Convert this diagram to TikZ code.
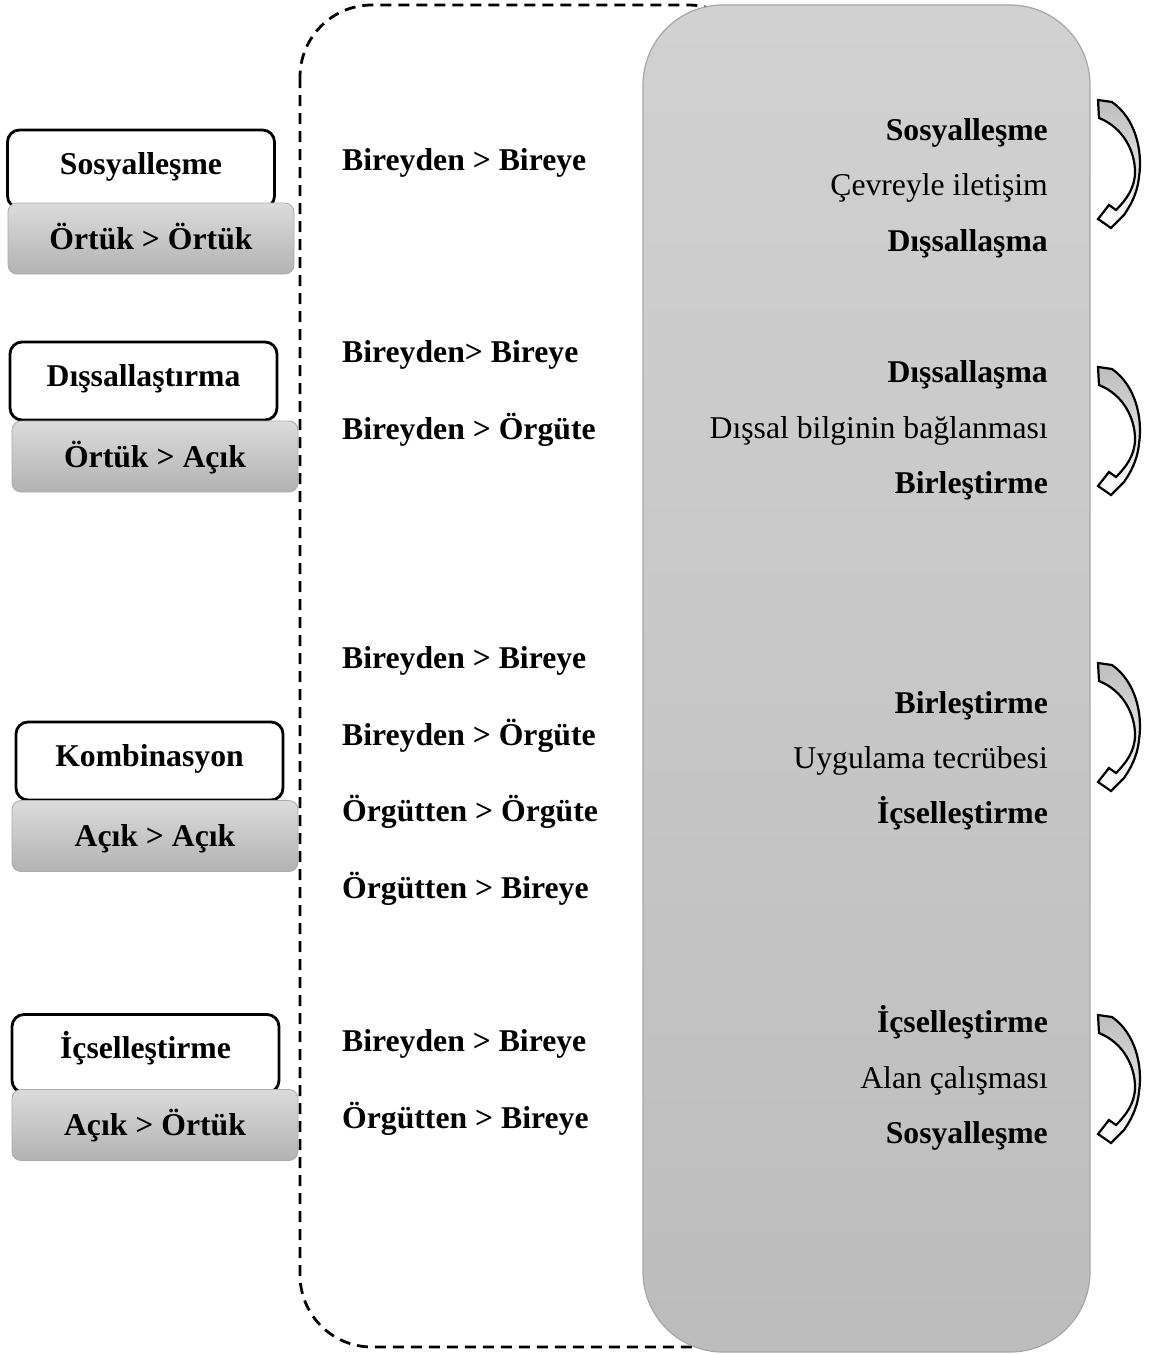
\documentclass[tikz,border=0pt]{standalone}
\usepackage{fontspec}
\setmainfont{Liberation Serif}
\begin{document}
\begin{tikzpicture}[x=1pt,y=-1pt,
  every node/.style={font=\fontsize{31.7}{38}\selectfont, inner sep=0pt},
  modebox/.style={draw=black, line width=2.8pt, rounded corners=12pt, fill=white,
    minimum width=267pt, minimum height=78pt, font=\fontsize{31.7}{38}\selectfont\bfseries,
    text height=19pt, text depth=8.2pt},
  kindbox/.style={draw=black!33, line width=0.8pt, rounded corners=9pt,
    top color=black!14, bottom color=black!30,
    minimum width=286pt, minimum height=71pt, font=\fontsize{31.7}{38}\selectfont\bfseries,
    text height=28.5pt, text depth=7.5pt},
  flow/.style={anchor=base west, font=\fontsize{31.7}{38}\selectfont\bfseries},
  stage/.style={anchor=base east, font=\fontsize{31.7}{38}\selectfont\bfseries},
  stagenote/.style={anchor=base east, font=\fontsize{31.7}{38}\selectfont},
  turnarrow/.pic={
    \path[draw=black, line width=2.2pt, line join=miter, top color=black!26, bottom color=white]
      (1,0) -- (15,2) .. controls (38,18) and (46,50) .. (42,77)
      .. controls (40,95) and (33,106) .. (27,115)
      -- (14,128) -- (1,119) -- (12,105) -- (19,110)
      .. controls (29,100) and (38,88) .. (38,72)
      .. controls (38,52) and (27,28) .. (2,18) -- cycle;
  }
]
\useasboundingbox (0,0) rectangle (1153,1354);

% dashed frame around the flow column
\draw[line width=2.8pt, dash pattern=on 11pt off 7pt, rounded corners=72pt]
  (300,5) rectangle (760,1347);

% grey panel with the transitions
\path[draw=black!35, line width=1.2pt, rounded corners=80pt,
      top color=black!18, bottom color=black!26]
  (643,5) rectangle (1090,1352);

% left column: mode and knowledge conversion
\node[modebox] (m1) at (141,169) {Sosyalleşme};
\node[kindbox] (k1) at (151,238.5) {Örtük > Örtük};
\node[modebox] (m2) at (143.5,381) {Dışsallaştırma};
\node[kindbox] (k2) at (155,456.5) {Örtük > Açık};
\node[modebox] (m3) at (149.5,761) {Kombinasyon};
\node[kindbox] (k3) at (155,836) {Açık > Açık};
\node[modebox] (m4) at (145.5,1053.5) {İçselleştirme};
\node[kindbox] (k4) at (155,1125) {Açık > Örtük};

% middle column: direction of transfer
\node[flow] (f1) at (342,170) {Bireyden > Bireye};
\node[flow] (f2) at (342,362) {Bireyden> Bireye};
\node[flow] (f3) at (342,439) {Bireyden > Örgüte};
\node[flow] (f4) at (342,668) {Bireyden > Bireye};
\node[flow] (f5) at (342,745) {Bireyden > Örgüte};
\node[flow] (f6) at (342,821) {Örgütten > Örgüte};
\node[flow] (f7) at (342,898) {Örgütten > Bireye};
\node[flow] (f8) at (342,1051) {Bireyden > Bireye};
\node[flow] (f9) at (342,1128) {Örgütten > Bireye};

% right column: transitions between modes
\node[stage] (s1a) at (1048,140) {Sosyalleşme};
\node[stagenote] (s1b) at (1048,195) {Çevreyle iletişim};
\node[stage] (s1c) at (1048,251) {Dışsallaşma};
\node[stage] (s2a) at (1048,382) {Dışsallaşma};
\node[stagenote] (s2b) at (1048,438) {Dışsal bilginin bağlanması};
\node[stage] (s2c) at (1048,493) {Birleştirme};
\node[stage] (s3a) at (1048,713) {Birleştirme};
\node[stagenote] (s3b) at (1048,768) {Uygulama tecrübesi};
\node[stage] (s3c) at (1048,823) {İçselleştirme};
\node[stage] (s4a) at (1048,1032) {İçselleştirme};
\node[stagenote] (s4b) at (1048,1088) {Alan çalışması};
\node[stage] (s4c) at (1048,1143) {Sosyalleşme};

% curved arrows
\pic at (1097,100) {turnarrow};
\pic at (1097,367) {turnarrow};
\pic at (1097,663) {turnarrow};
\pic at (1097,1015) {turnarrow};
\end{tikzpicture}
\end{document}
